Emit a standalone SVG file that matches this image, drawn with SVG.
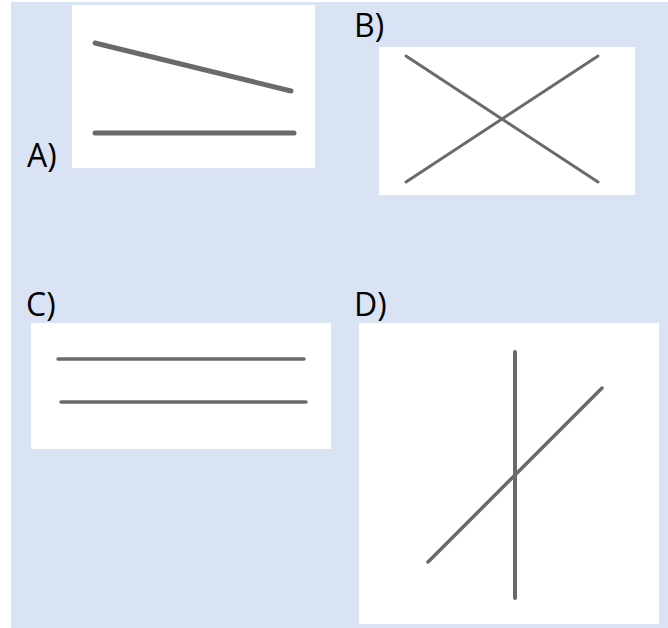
<svg xmlns="http://www.w3.org/2000/svg" width="668" height="628" viewBox="0 0 668 628">
<style>
.panel{fill:#ffffff}
.ln{stroke:#6b6b6b;stroke-linecap:round;fill:none;filter:url(#soft)}
.lbl{font-family:"Open Sans","Noto Sans",sans-serif;font-size:32px;fill:#000000}
</style>
<defs>
<filter id="soft" filterUnits="userSpaceOnUse" x="0" y="0" width="668" height="628"><feGaussianBlur stdDeviation="0.7"/></filter>
</defs>
<rect x="11" y="2" width="657" height="626" fill="#dae3f3"/>
<g id="panelA">
<rect class="panel" x="72" y="5" width="243" height="163"/>
<line class="ln" x1="95" y1="43" x2="291" y2="91" stroke-width="5"/>
<line class="ln" x1="95" y1="133" x2="294" y2="133" stroke-width="5"/>
<text class="lbl" x="27" y="167">A)</text>
</g>
<g id="panelB">
<rect class="panel" x="379" y="47" width="256" height="148"/>
<line class="ln" x1="406" y1="56" x2="598" y2="182" stroke-width="3"/>
<line class="ln" x1="406" y1="182" x2="598" y2="56" stroke-width="3"/>
<text class="lbl" x="354" y="37">B)</text>
</g>
<g id="panelC">
<rect class="panel" x="31" y="323" width="300" height="126"/>
<line class="ln" x1="58" y1="359" x2="304" y2="359" stroke-width="3.5"/>
<line class="ln" x1="61" y1="402" x2="306" y2="402" stroke-width="3.5"/>
<text class="lbl" x="26" y="316">C)</text>
</g>
<g id="panelD">
<rect class="panel" x="359" y="323" width="300" height="301"/>
<line class="ln" x1="515" y1="352" x2="515" y2="598" stroke-width="4"/>
<line class="ln" x1="428" y1="562" x2="602" y2="388" stroke-width="3.5"/>
<text class="lbl" x="354" y="316">D)</text>
</g>
</svg>
